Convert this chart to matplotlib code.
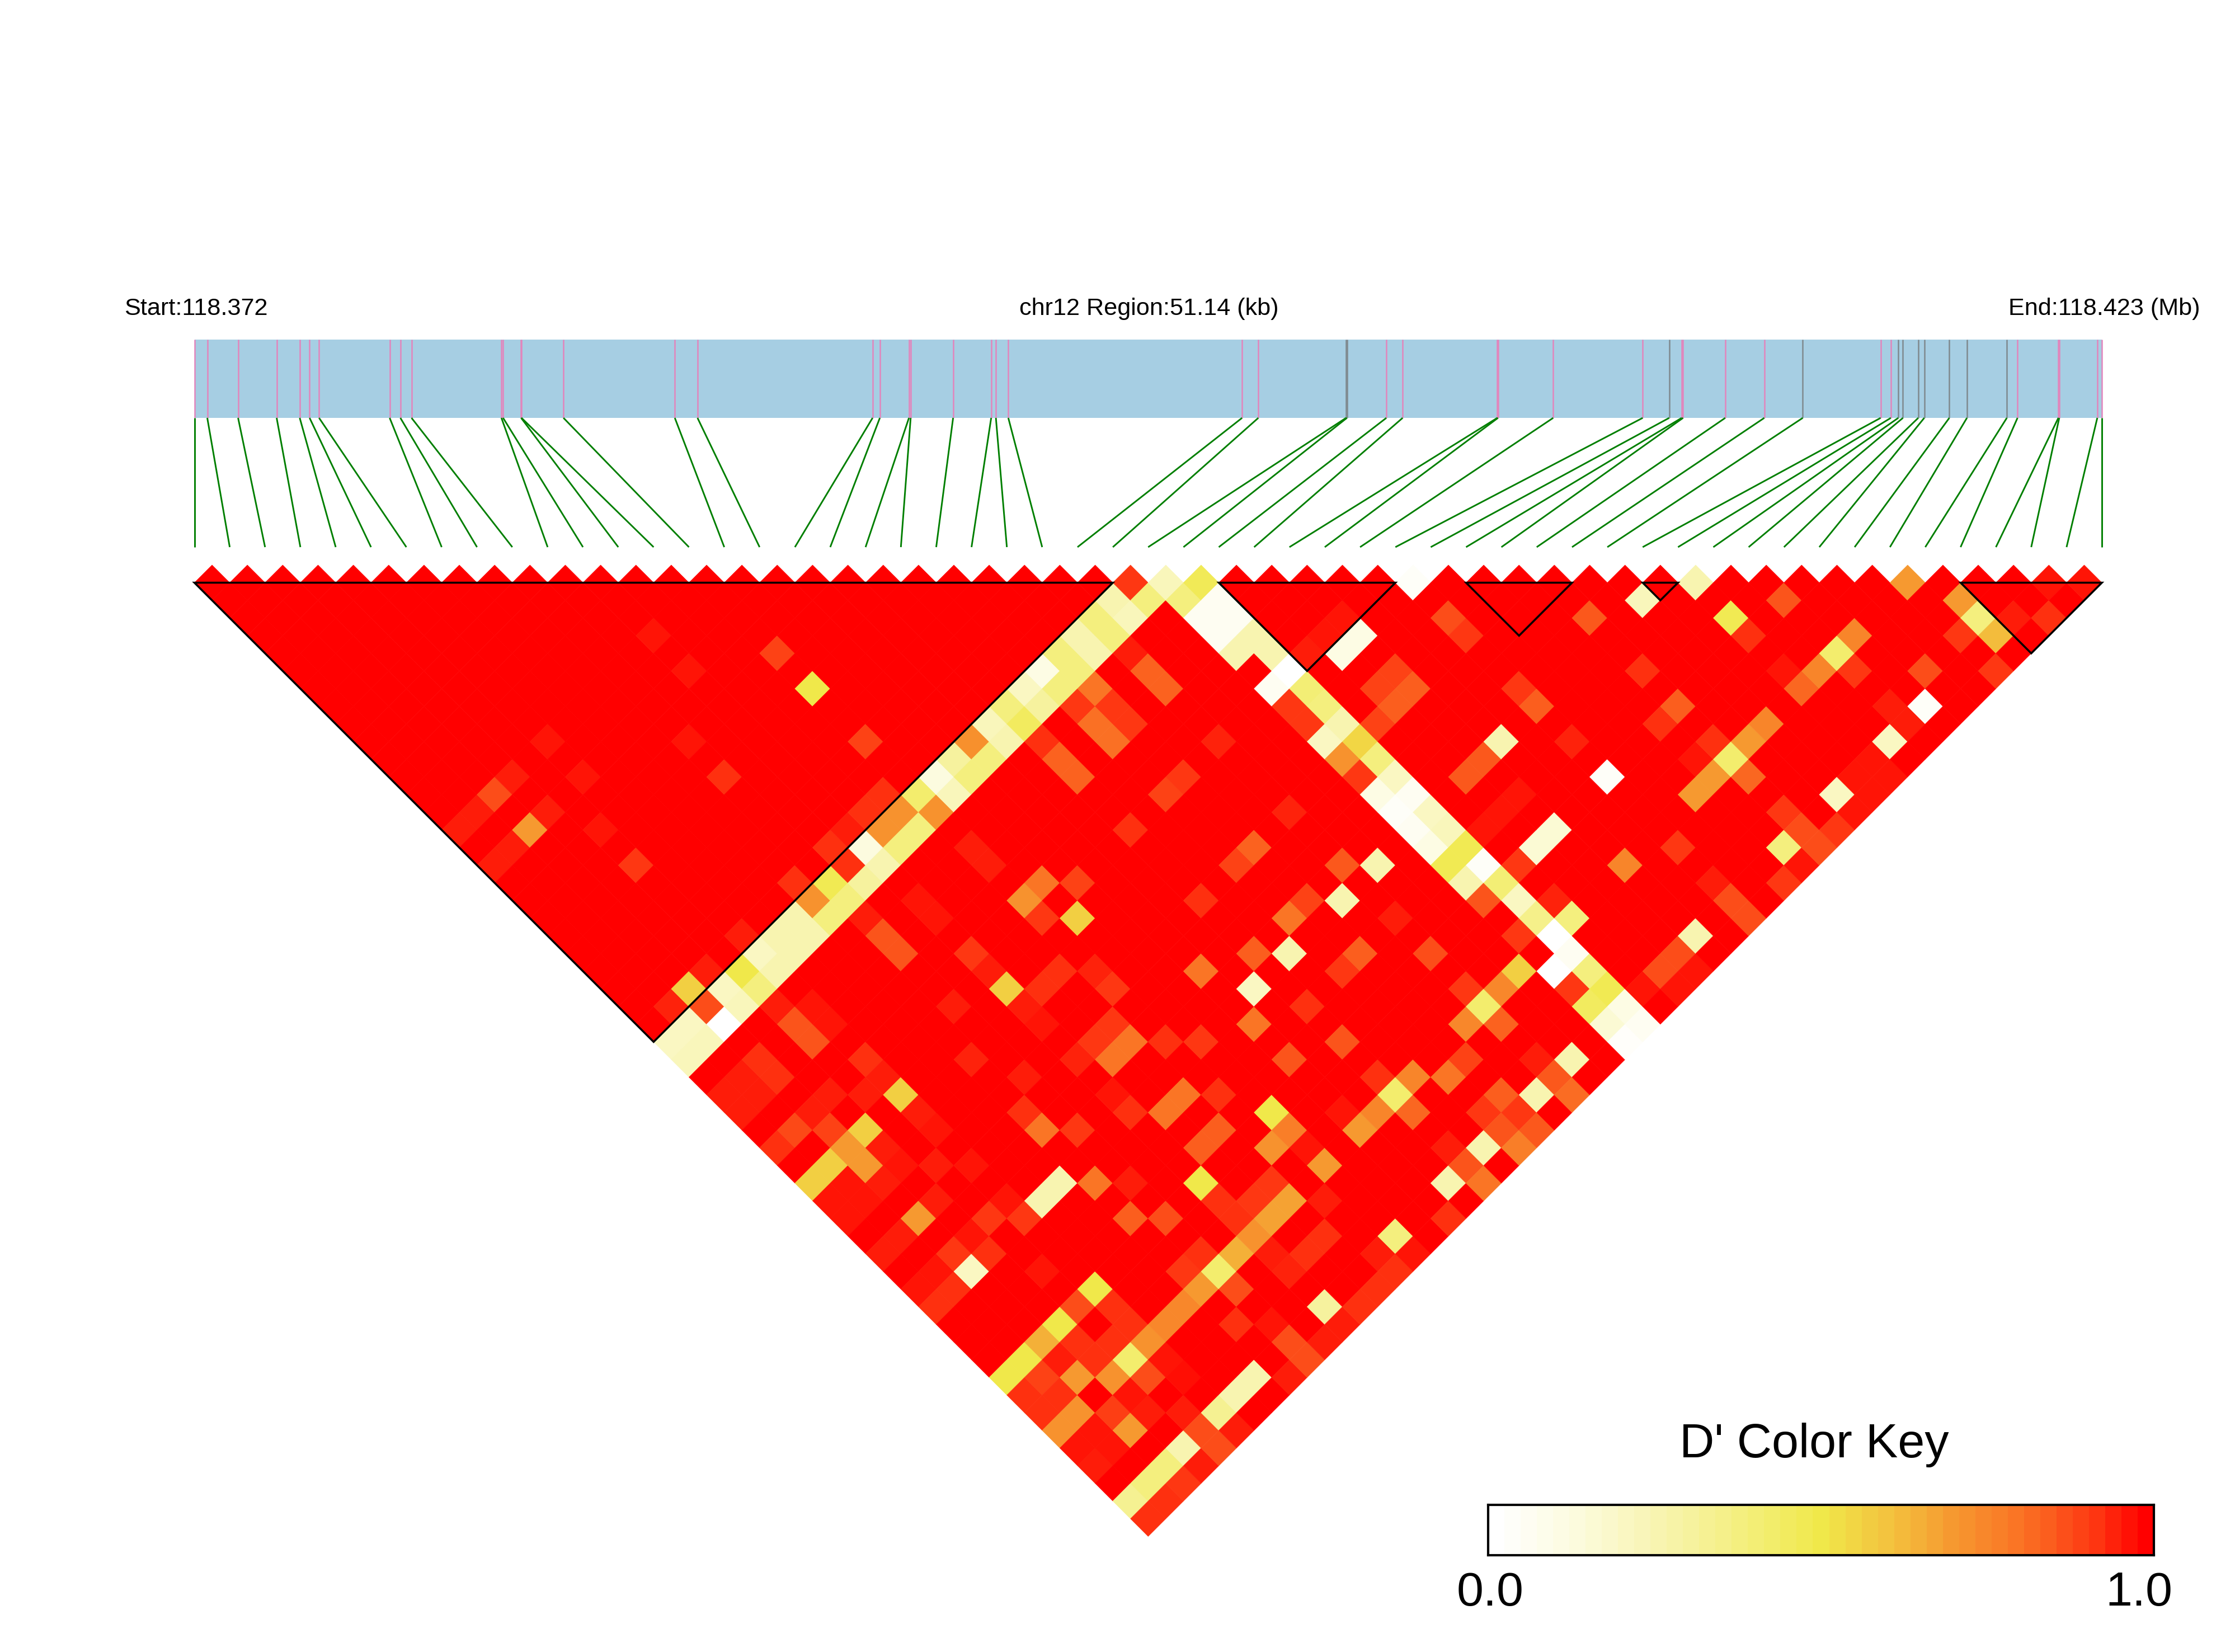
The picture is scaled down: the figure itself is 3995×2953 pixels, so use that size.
"""LD heatmap of the chr12 region with a gene track and a D' colour key."""

import numpy as np
import matplotlib
matplotlib.use("Agg")
import matplotlib.pyplot as plt
from matplotlib.collections import PolyCollection, LineCollection
from matplotlib.colors import LinearSegmentedColormap
from matplotlib.patches import Polygon, Rectangle

plt.rcParams["font.family"] = ["Liberation Sans", "DejaVu Sans"]

REGION_KB = 51.14
N_SNP = 55

# SNP offset from the region start, kb
snp_kb = [
    0.000, 0.345, 1.171, 2.205, 2.824, 3.088, 3.342, 5.235, 5.522, 5.821,
    8.231, 8.276, 8.759, 8.770, 9.895, 12.880, 13.488, 18.182, 18.377, 19.157,
    19.203, 20.341, 21.362, 21.488, 21.821, 28.088, 28.524, 30.876, 30.900, 31.956,
    32.393, 34.930, 34.950, 36.429, 38.829, 39.539, 39.874, 39.912, 41.042, 42.089,
    43.120, 45.209, 45.482, 45.682, 45.806, 46.217, 46.378, 47.050, 47.522, 48.592,
    48.878, 49.973, 49.997, 51.017, 51.140,
]
# SNPs whose tick on the track is grey rather than pink
grey_snps = [27, 28, 35, 40, 43, 44, 45, 46, 47, 48, 49]

# haplotype blocks (first SNP, last SNP)
blocks = [(0, 26), (29, 34), (36, 39), (41, 42), (50, 54)]

# D' key
key_colors = [
    (0.00, "#FFFFFF"), (0.125, "#FCFBDD"), (0.25, "#F8F4B0"), (0.375, "#F4EF80"),
    (0.50, "#F0E94A"), (0.56, "#F2D243"), (0.64, "#F4B53A"), (0.70, "#F69A30"),
    (0.78, "#F97E28"), (0.86, "#FB5A1D"), (0.93, "#FE3210"), (1.00, "#FF0000"),
]
key_bands = 41

# every pair not listed here has D' = 1.0  (snp a, snp b, D')
ld_pairs = [
    # inside the big block
    (11, 15, .97), (14, 19, .90), (11, 17, .97), (14, 21, .50), (5, 15, .97), (9, 19, .97),
    (14, 24, .90), (5, 17, .97), (9, 21, .93), (3, 15, .96), (2, 15, .88), (1, 15, .96),
    (0, 15, .96), (3, 17, .96), (2, 17, .70), (1, 17, .96), (0, 17, .96), (4, 19, .97),
    (4, 21, .92), (13, 26, .93), (12, 26, .93), (11, 26, .96), (10, 26, .93), (8, 26, .93),
    (5, 26, .96), (3, 26, .96), (2, 26, .57), (1, 26, .95),
    # snp 27
    (0, 27, .20), (1, 27, .20), (2, 27, .88), (3, 27, .20), (4, 27, .50), (5, 27, .20),
    (6, 27, .25), (7, 27, .25), (8, 27, .72), (9, 27, .48), (10, 27, .93), (11, 27, .12),
    (12, 27, .72), (13, 27, .72), (14, 27, .42), (15, 27, .12), (16, 27, .30), (17, 27, .73),
    (18, 27, .22), (19, 27, .38), (20, 27, .20), (21, 27, .10), (22, 27, .38), (23, 27, .25),
    (24, 27, .38), (25, 27, .25), (26, 27, .92),
    # snp 28
    (0, 28, .22), (1, 28, .22), (2, 28, .00), (3, 28, .22), (4, 28, .38), (5, 28, .25),
    (6, 28, .25), (7, 28, .25), (8, 28, .38), (9, 28, .38), (10, 28, .30), (11, 28, .25),
    (12, 28, .38), (13, 28, .38), (14, 28, .72), (15, 28, .22), (16, 28, .38), (17, 28, .38),
    (18, 28, .25), (19, 28, .45), (20, 28, .30), (21, 28, .38), (22, 28, .38), (23, 28, .25),
    (24, 28, .38), (25, 28, .22), (26, 28, .38), (27, 28, .22),
    # snps 27 and 28 against the right side
    (28, 29, .47), (27, 29, .38), (28, 30, .05), (28, 31, .05), (28, 32, .25), (28, 33, .25),
    (28, 34, .00), (28, 35, .40), (28, 36, .38), (28, 37, .25), (28, 38, .55), (28, 39, .38),
    (28, 40, .20), (28, 41, .05), (28, 42, .20), (28, 43, .22), (28, 44, .48), (28, 45, .03),
    (28, 46, .40), (28, 47, .20), (28, 48, .35), (28, 49, .00), (28, 50, .05), (28, 51, .38),
    (28, 52, .48), (28, 53, .10), (28, 54, .05),
    (27, 30, .05), (27, 31, .05), (27, 32, .25), (27, 34, .05), (27, 35, .92), (27, 36, .92),
    (27, 37, .20), (27, 38, .72), (27, 39, .92), (27, 40, .10), (27, 41, .03), (27, 42, .05),
    (27, 43, .10), (27, 44, .48), (27, 45, .25), (27, 46, .87), (27, 48, .92), (27, 50, .00),
    (27, 51, .92), (27, 52, .45), (27, 53, .15), (27, 54, .02),
    # left half, below the band
    (9, 29, .96), (9, 30, .87), (9, 31, .87), (14, 30, .96), (14, 31, .96), (11, 30, .97),
    (11, 31, .97), (15, 33, .80), (14, 33, .72), (14, 34, .92), (11, 33, .92), (11, 34, .96),
    (11, 35, .57), (11, 36, .96), (11, 37, .97), (12, 36, .93), (13, 36, .93), (9, 34, .96),
    (4, 29, .96), (5, 30, .97), (5, 31, .97), (4, 30, .87), (4, 31, .87), (2, 30, .93),
    (2, 31, .93), (1, 30, .96), (1, 31, .96), (0, 30, .96), (0, 31, .96), (5, 33, .93),
    (5, 34, .96), (4, 34, .96), (3, 33, .96), (2, 33, .96), (1, 33, .89), (0, 33, .93),
    (2, 34, .90), (3, 35, .57), (5, 35, .57), (5, 36, .96), (5, 37, .97), (3, 36, .96),
    (3, 37, .97), (4, 38, .96), (5, 39, .97), (2, 35, .70), (2, 36, .70), (1, 35, .57),
    (0, 35, .57), (2, 37, .96), (1, 36, .97), (0, 36, .97), (1, 37, .97), (0, 37, .97),
    (3, 39, .96), (2, 39, .70), (1, 39, .96), (0, 39, .96), (4, 41, .92), (3, 41, .97),
    (2, 41, .92), (3, 42, .93), (2, 42, .20), (1, 42, .93), (0, 42, .93), (5, 41, .97),
    (1, 41, .97), (0, 41, .97), (5, 42, .92), (7, 42, .25), (6, 42, .25), (8, 43, .80),
    (9, 44, .96), (8, 45, .85), (9, 46, .88), (11, 46, .50), (8, 36, .95), (9, 38, .96),
    (8, 39, .93), (8, 40, .80), (9, 41, .92), (14, 38, .92), (13, 40, .80), (12, 40, .80),
    (13, 39, .92), (12, 39, .92), (11, 39, .95), (14, 41, .93), (15, 42, .92), (11, 41, .97),
    (11, 42, .93), (13, 43, .80), (12, 43, .80), (14, 44, .93), (13, 45, .85), (12, 45, .85),
    # lower tip
    (9, 48, .93), (8, 48, .92), (9, 49, .42), (8, 49, .70), (7, 49, .75), (6, 49, .75),
    (5, 49, .72), (4, 49, .42), (3, 49, .72), (1, 49, .72), (0, 49, .72), (5, 46, .50),
    (4, 46, .88), (3, 46, .50), (2, 46, .65), (1, 46, .50), (0, 46, .50), (4, 44, .97),
    (5, 47, .93), (5, 48, .93), (4, 48, .93), (3, 48, .93), (3, 47, .93), (2, 47, .96),
    (1, 47, .90), (1, 48, .93), (0, 48, .93), (0, 47, .93), (2, 48, .70), (0, 54, .93),
    (1, 54, .93), (2, 54, .92), (3, 54, .96), (4, 54, .88), (4, 53, .88), (5, 54, .96),
    (0, 53, .33), (1, 53, .38), (2, 53, .38), (3, 53, .25), (5, 53, .33), (6, 53, .25),
    (7, 53, .25), (8, 54, .96), (9, 53, .88), (9, 54, .88), (10, 54, .96), (11, 53, .30),
    (11, 54, .96), (12, 54, .93), (13, 54, .93), (14, 54, .93), (9, 52, .97), (8, 51, .93),
    (9, 50, .88), (4, 50, .88), (5, 50, .97), (5, 51, .98), (3, 50, .97), (3, 51, .96),
    (2, 50, .91), (2, 51, .70), (1, 51, .97), (1, 50, .97), (0, 50, .97), (0, 51, .96),
    (4, 52, .96),
    # middle
    (18, 42, .20), (19, 44, .93), (17, 43, .80), (19, 46, .87), (17, 45, .87), (15, 46, .50),
    (15, 47, .78), (14, 47, .72), (15, 48, .97), (15, 49, .70), (13, 48, .92), (12, 48, .92),
    (13, 49, .68), (12, 49, .68), (14, 50, .96), (11, 49, .72), (10, 49, .65), (11, 47, .93),
    (11, 48, .93), (13, 51, .93), (12, 51, .93), (11, 50, .96), (11, 51, .95), (14, 53, .96),
    (15, 53, .38), (15, 54, .97), (17, 54, .93), (18, 53, .25), (19, 53, .87), (19, 54, .80),
    (19, 52, .96), (20, 53, .25), (21, 53, .87), (21, 54, .78), (21, 52, .92), (22, 52, .85),
    (22, 53, .92), (22, 54, .86), (23, 53, .25), (24, 52, .96), (24, 53, .86), (24, 54, .82),
    (25, 53, .25), (23, 49, .75), (24, 49, .42), (24, 50, .84), (24, 48, .92), (25, 49, .75),
    (22, 50, .90), (21, 50, .80), (20, 49, .76), (19, 48, .93), (19, 49, .42), (18, 49, .76),
    (17, 49, .70), (19, 50, .83), (17, 48, .97), (26, 49, .57),
    (24, 29, .96), (24, 30, .84), (24, 31, .84), (22, 29, .80), (21, 29, .92), (22, 30, .92),
    (22, 31, .92), (21, 30, .81), (21, 31, .81), (19, 29, .93), (19, 30, .84), (19, 31, .84),
    (24, 34, .95), (22, 34, .92), (21, 34, .90), (19, 34, .93), (24, 38, .95), (22, 38, .84),
    (21, 38, .90), (19, 38, .93), (24, 41, .86), (25, 42, .25), (23, 42, .25), (22, 41, .90),
    (21, 41, .80), (24, 44, .96), (20, 42, .25), (19, 41, .85), (21, 44, .92), (22, 44, .85),
    (24, 46, .88), (17, 40, .80), (16, 34, .90), (15, 35, .57), (14, 37, .95),
    # right of the band
    (29, 34, .96), (31, 34, .97), (30, 34, .97), (31, 35, .10), (30, 35, .10), (34, 37, .88),
    (34, 38, .92), (31, 37, .90), (30, 37, .90), (31, 38, .85), (30, 38, .85), (29, 38, .90),
    (34, 41, .92), (34, 42, .85), (34, 44, .95), (32, 42, .25), (31, 42, .86), (30, 42, .86),
    (31, 44, .97), (30, 44, .97), (29, 44, .97), (31, 46, .15), (30, 46, .15), (29, 46, .92),
    (29, 48, .95), (29, 49, .38), (38, 41, .86), (40, 42, .22), (42, 45, .48), (42, 46, .93),
    (44, 46, .87), (45, 49, .76), (44, 49, .42), (43, 49, .76), (42, 49, .83), (42, 48, .97),
    (44, 50, .92), (38, 44, .93), (46, 52, .88), (49, 51, .70), (49, 52, .38), (49, 53, .62),
    (48, 52, .92), (48, 54, .92), (50, 53, .96), (51, 54, .93), (52, 53, .97), (53, 54, .97),
    (38, 46, .85), (37, 46, .93), (34, 46, .03), (40, 49, .76), (39, 49, .70), (38, 49, .42),
    (38, 48, .93), (37, 48, .97), (37, 49, .70), (36, 49, .70), (38, 50, .83), (44, 52, .96),
    (45, 53, .03), (44, 53, .96), (43, 53, .20), (42, 53, .97), (41, 53, .97), (42, 54, .97),
    (41, 54, .97), (40, 53, .20), (40, 54, .97), (39, 54, .92), (38, 52, .92), (38, 53, .88),
    (38, 54, .88), (37, 53, .38), (37, 54, .97), (36, 54, .92), (34, 50, .92), (32, 49, .76),
    (34, 52, .96), (34, 53, .88), (34, 54, .88), (32, 53, .25), (31, 53, .88), (30, 53, .88),
    (29, 53, .97), (31, 54, .97), (30, 54, .97),
    # first row
    (26, 27, .92), (27, 28, .22), (34, 35, .03), (42, 43, .25), (48, 49, .70),
]


def kb_to_grid(kb):
    # the track spans the same width as the SNP columns of the triangle
    return np.asarray(kb) / REGION_KB * (N_SNP - 1)


def diamond(a, b):
    cx, cy = (a + b) / 2, (b - a) / 2
    return [(cx - 0.5, cy), (cx, cy - 0.5), (cx + 0.5, cy), (cx, cy + 0.5)]


dprime = np.ones((N_SNP, N_SNP))
for a, b, d in ld_pairs:
    dprime[a, b] = d

cmap = LinearSegmentedColormap.from_list("dprime", key_colors, N=256)

W, H = 3995, 2953
fig = plt.figure(figsize=(W / 300, H / 300), dpi=300, facecolor="white")
ax = fig.add_axes([0, 0, 1, 1])

# grid unit in pixels, with the first SNP column and the top of the first row
unit, x0, y0 = 63.14, 347.5, 1010.0
ax.set_xlim(-x0 / unit, (W - x0) / unit)
ax.set_ylim((H - y0) / unit, -y0 / unit)
ax.axis("off")

# triangle
pairs = [(a, b) for a in range(N_SNP) for b in range(a + 1, N_SNP)]
polys = [diamond(a, b) for a, b in pairs]
vals = [dprime[a, b] for a, b in pairs]
cells = PolyCollection(polys, array=vals, cmap=cmap, clim=(0, 1),
                       edgecolors="face", linewidths=0.15, zorder=2)
ax.add_collection(cells)

for s, e in blocks:
    ax.add_patch(Polygon([(s, 0.5), (e, 0.5), ((s + e) / 2, (e - s + 1) / 2)],
                         closed=True, fill=False, edgecolor="black",
                         linewidth=0.85, joinstyle="miter", zorder=3))

# gene track
track_top, track_bottom, link_end = -6.38, -4.165, -0.507
xs = kb_to_grid(snp_kb)
ax.add_patch(Rectangle((0, track_top), N_SNP - 1, track_bottom - track_top,
                       facecolor="#A6CEE3", edgecolor="none", zorder=1))
tick_colors = ["#7F8A8F" if i in grey_snps else "#E285BC" for i in range(N_SNP)]
ax.vlines(xs, track_top - 0.01, track_bottom, colors=tick_colors, linewidth=0.6, zorder=1.5)
links = [[(x, track_bottom), (i, link_end)] for i, x in enumerate(xs)]
ax.add_collection(LineCollection(links, colors="#007F00", linewidths=0.7, zorder=1.5))

label_y = 563 / H
fig.text(222 / W, 1 - label_y, "Start:118.372", fontsize=10.4, ha="left", va="baseline")
fig.text(2054 / W, 1 - label_y, f"chr12 Region:{REGION_KB} (kb)", fontsize=10.4, ha="center", va="baseline")
fig.text(3932 / W, 1 - label_y, "End:118.423 (Mb)", fontsize=10.4, ha="right", va="baseline")

# colour key
cax = fig.add_axes([2660 / W, 1 - 2780 / H, 1190 / W, 90 / H])
cax.pcolormesh(np.linspace(0, 1, key_bands + 1), [0, 1],
               np.linspace(0, 1, key_bands).reshape(1, -1), cmap=cmap, vmin=0, vmax=1)
cax.set_xticks([])
cax.set_yticks([])
for spine in cax.spines.values():
    spine.set_linewidth(1.0)
fig.text(3243 / W, 1 - 2605 / H, "D' Color Key", fontsize=20.7, ha="center", va="baseline")
fig.text(2664 / W, 1 - 2870 / H, "0.0", fontsize=20.7, ha="center", va="baseline")
fig.text(3823 / W, 1 - 2870 / H, "1.0", fontsize=20.7, ha="center", va="baseline")

fig.savefig("out.png", dpi=300, facecolor="white")
